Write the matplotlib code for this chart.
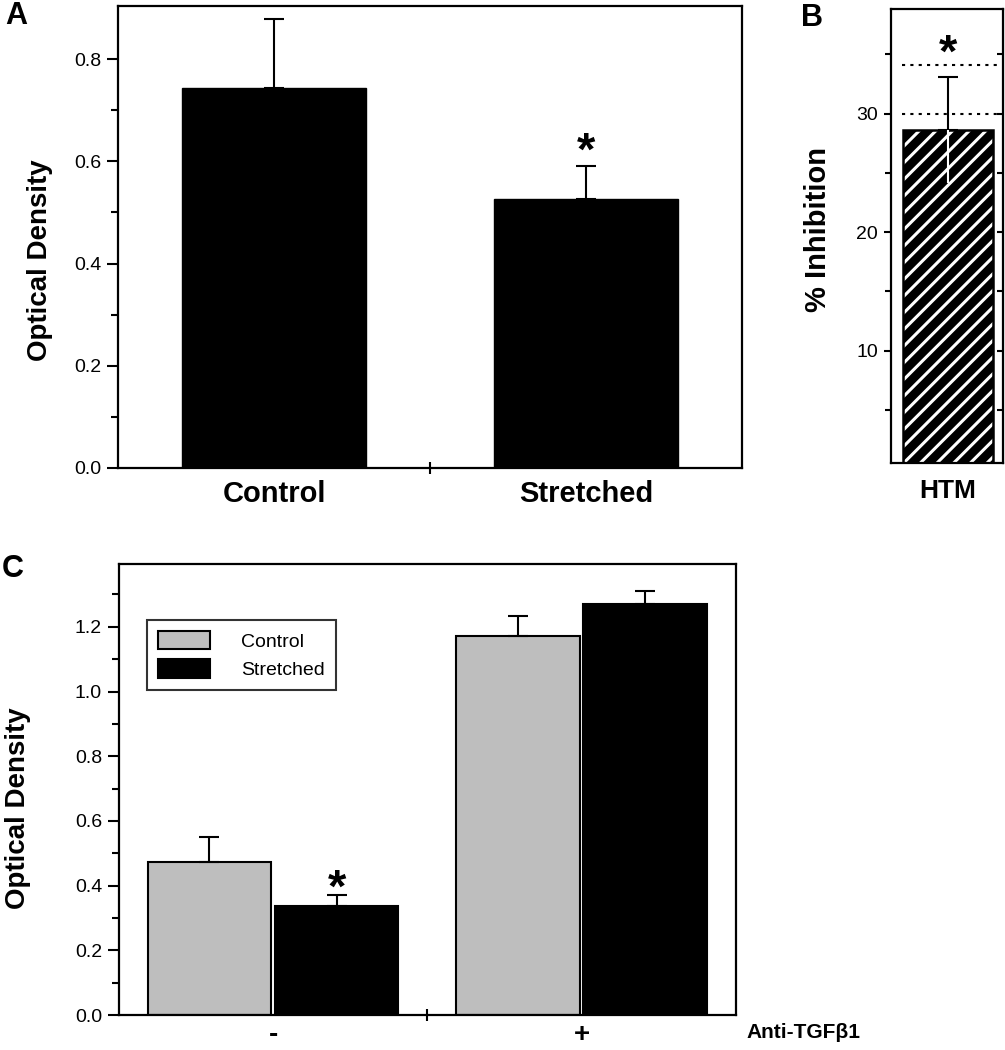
import matplotlib
matplotlib.use("Agg")
import matplotlib.pyplot as plt
import matplotlib.transforms as mtransforms
import numpy as np

plt.rcParams['font.family'] = ['Liberation Sans', 'DejaVu Sans']

# ---------------- data ----------------
a_categories = ["Control", "Stretched"]
a_values = [0.744, 0.526]
a_errors = [0.134, 0.065]

b_category = "HTM"
b_value = 28.6
b_error = 4.5
b_ci_lines = [30.0, 34.1]

c_groups = ["-", "+"]
c_control = [0.474, 1.172]
c_control_err = [0.077, 0.062]
c_stretched = [0.338, 1.271]
c_stretched_err = [0.033, 0.039]
c_series = ["Control", "Stretched"]

GRAY = "#bebebe"
fig = plt.figure(figsize=(10.05, 10.5), dpi=100)

def style_box(ax):
    for s in ax.spines.values():
        s.set_linewidth(1.6)
    ax.tick_params(axis='y', which='major', direction='out', length=8, width=1.5,
                   labelsize=14, pad=4)
    ax.tick_params(axis='y', which='minor', direction='out', length=5, width=1.5)

# ---------------- Panel A ----------------
axA = fig.add_axes([0.1174, 0.5543, 0.621, 0.44])
xa = np.array([0.5, 1.5])
axA.bar(xa, a_values, width=0.59, color='black', edgecolor='black', zorder=2)
axA.errorbar(xa, a_values, yerr=[np.zeros(2), a_errors], fmt='none', ecolor='black',
             elinewidth=1.5, capsize=7, capthick=1.5, zorder=3)
axA.set_xlim(0, 2)
axA.set_ylim(0, 0.904)
axA.set_yticks([0.0, 0.2, 0.4, 0.6, 0.8])
axA.set_yticklabels(["0.0", "0.2", "0.4", "0.6", "0.8"])
axA.set_yticks(np.arange(0.1, 0.9, 0.2), minor=True)
axA.set_xticks(xa)
axA.set_xticklabels(a_categories, fontsize=21, fontweight='bold')
axA.set_xticks([1.0], minor=True)
style_box(axA)
axA.tick_params(axis='x', which='major', length=0, pad=9)
axA.tick_params(axis='x', which='minor', direction='inout', length=8, width=1.5)
axA.text(xa[1], a_values[1] + a_errors[1] - 0.017, "*", ha='center', va='bottom',
         fontsize=34, fontweight='bold')
fig.text(0.04, 0.752, "Optical Density", rotation=90, ha='center', va='center',
         fontsize=20, fontweight='bold')
fig.text(0.016, 0.985, "A", ha='center', va='center', fontsize=22, fontweight='bold')

# ---------------- Panel B ----------------
axB = fig.add_axes([0.8863, 0.559, 0.1117, 0.4321])
plt.rcParams['hatch.linewidth'] = 2.2
axB.bar([0.51], [b_value], width=0.8, color='black', edgecolor='white', hatch='//',
        linewidth=0, zorder=2)
axB.bar([0.51], [b_value], width=0.8, fill=False, edgecolor='black', linewidth=1.8,
        zorder=3)
axB.errorbar([0.51], [b_value], yerr=[[0], [b_error]], fmt='none', ecolor='black',
             elinewidth=1.5, capsize=7, capthick=1.5, zorder=4)
axB.errorbar([0.51], [b_value], yerr=[[b_error], [0]], fmt='none', ecolor='white',
             elinewidth=1.5, capsize=0, zorder=4)
for v in b_ci_lines:
    axB.axhline(v, xmin=0.1, xmax=1.0, color='black', linestyle=(0, (1.5, 2.5)),
                linewidth=1.5, zorder=1)
axB.set_xlim(0, 1)
axB.set_ylim(0.5, 38.8)
axB.set_yticks([10, 20, 30])
axB.set_yticks([5, 15, 25, 35], minor=True)
style_box(axB)
axB.tick_params(axis='y', which='major', length=5)
axB.tick_params(axis='y', which='minor', length=4)
axB2 = axB.secondary_yaxis('right')
axB2.set_yticks([10, 20, 30])
axB2.set_yticks([5, 15, 25, 35], minor=True)
axB2.tick_params(axis='y', which='both', direction='in', length=4, width=1.5,
                 labelright=False)
axB.set_xticks([])
axB.text(0.51, b_ci_lines[1] - 1.0, "*", ha='center', va='bottom', fontsize=34,
         fontweight='bold')
axB.text(0.51, -0.035, b_category, transform=axB.transAxes, ha='center', va='top',
         fontsize=19, fontweight='bold')
fig.text(0.814, 0.781, "% Inhibition", rotation=90, ha='center', va='center',
         fontsize=21, fontweight='bold')
fig.text(0.808, 0.983, "B", ha='center', va='center', fontsize=22, fontweight='bold')

# ---------------- Panel C ----------------
axC = fig.add_axes([0.1181, 0.0333, 0.6142, 0.4295])
xc = np.array([0.5, 1.5])
off = 0.206
w = 0.40
axC.bar(xc - off, c_control, width=w, color=GRAY, edgecolor='black', linewidth=1.5,
        label=c_series[0], zorder=2)
axC.bar(xc + off, c_stretched, width=w, color='black', edgecolor='black', linewidth=1.5,
        label=c_series[1], zorder=2)
axC.errorbar(xc - off, c_control, yerr=[np.zeros(2), c_control_err], fmt='none',
             ecolor='black', elinewidth=1.5, capsize=7, capthick=1.5, zorder=3)
axC.errorbar(xc + off, c_stretched, yerr=[np.zeros(2), c_stretched_err], fmt='none',
             ecolor='black', elinewidth=1.5, capsize=7, capthick=1.5, zorder=3)
axC.set_xlim(0, 2)
axC.set_ylim(0, 1.394)
axC.set_yticks([0.0, 0.2, 0.4, 0.6, 0.8, 1.0, 1.2])
axC.set_yticklabels(["0.0", "0.2", "0.4", "0.6", "0.8", "1.0", "1.2"])
axC.set_yticks(np.arange(0.1, 1.35, 0.2), minor=True)
axC.set_xticks(xc)
axC.set_xticklabels(["", ""])
axC.set_xticks([1.0], minor=True)
style_box(axC)
axC.tick_params(axis='x', which='major', length=0)
axC.tick_params(axis='x', which='minor', direction='inout', length=8, width=1.5)
trans = mtransforms.blended_transform_factory(axC.transData, axC.transAxes)
for xg, lab in zip(xc, c_groups):
    axC.text(xg, -0.044, lab, transform=trans, ha='center', va='center',
             fontsize=20, fontweight='bold')
axC.text(xc[0] + off, c_stretched[0] + c_stretched_err[0] - 0.052, "*", ha='center',
         va='bottom', fontsize=34, fontweight='bold')
leg = axC.legend(loc='upper left', bbox_to_anchor=(0.046, 0.876), fontsize=14,
                 frameon=True, fancybox=False, edgecolor='black', handlelength=2.7,
                 handleheight=1.1, borderpad=0.55, labelspacing=0.45, handletextpad=1.6,
                 borderaxespad=0)
leg.get_frame().set_linewidth(1.5)
fig.text(0.018, 0.2305, "Optical Density", rotation=90, ha='center', va='center',
         fontsize=20, fontweight='bold')
fig.text(0.743, 0.0162, "Anti-TGF\u03b21", ha='left', va='center', fontsize=15,
         fontweight='bold')
fig.text(0.013, 0.458, "C", ha='center', va='center', fontsize=22, fontweight='bold')

fig.savefig("out.png", dpi=100)
